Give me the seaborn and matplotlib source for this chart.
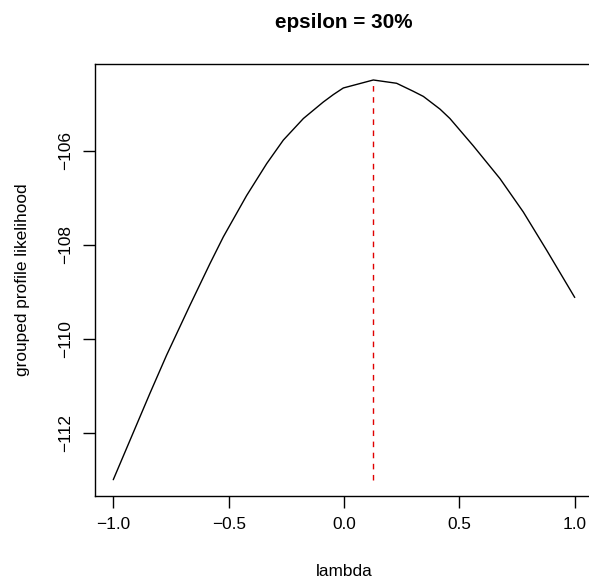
import numpy as np
import pandas as pd
import matplotlib
matplotlib.use("Agg")
import matplotlib.pyplot as plt
import seaborn as sns

# Data
lambda_vals = [-1.000, -0.841, -0.769, -0.668, -0.581, -0.523, -0.422, -0.335,
               -0.263, -0.176, -0.090, -0.046, -0.003, 0.127, 0.228, 0.300,
               0.344, 0.416, 0.459, 0.560, 0.676, 0.777, 0.879, 1.000]
loglik_vals = [-113.00, -111.16, -110.35, -109.29, -108.40, -107.83, -106.95, -106.27,
               -105.77, -105.31, -104.96, -104.80, -104.66, -104.49, -104.56, -104.73,
               -104.84, -105.11, -105.31, -105.89, -106.59, -107.30, -108.12, -109.12]
x_ticks = [-1.0, -0.5, 0.0, 0.5, 1.0]
x_tick_labels = ["\u22121.0", "\u22120.5", "0.0", "0.5", "1.0"]
y_ticks = [-112, -110, -108, -106]
y_tick_labels = ["\u2212112", "\u2212110", "\u2212108", "\u2212106"]
title = "epsilon = 30%"
xlabel = "lambda"
ylabel = "grouped profile likelihood"

df = pd.DataFrame({"lambda": lambda_vals, "loglik": loglik_vals})

sns.set_theme(style="white")
plt.rcParams['font.family'] = ['Liberation Sans', 'DejaVu Sans']
plt.rcParams['text.color'] = 'black'
plt.rcParams['axes.labelcolor'] = 'black'
plt.rcParams['xtick.color'] = 'black'
plt.rcParams['ytick.color'] = 'black'

W, H = 589, 582
fig = plt.figure(figsize=(W / 100, H / 100), dpi=100)
left, right, top, bottom = 94.8, 593.2, 64.0, 495.7
ax = fig.add_axes([left / W, (H - bottom) / H, (right - left) / W, (bottom - top) / H])

sns.lineplot(data=df, x="lambda", y="loglik", ax=ax, color="black", linewidth=1.0,
             sort=False, estimator=None)

imax = int(np.argmax(df["loglik"].values))
peak_x = df["lambda"].values[imax]
ax.plot([peak_x, peak_x], [df["loglik"].min(), df["loglik"].max()], color="#e00000",
        linewidth=1.0, linestyle=(0, (4, 4)))

rng = df["loglik"].max() - df["loglik"].min()
ax.set_xlim(-1.08, 1.08)
ax.set_ylim(df["loglik"].min() - 0.04 * rng, df["loglik"].max() + 0.04 * rng)

ax.set_xticks(x_ticks)
ax.set_xticklabels(x_tick_labels)
ax.set_yticks(y_ticks)
ax.set_yticklabels(y_tick_labels, rotation=90, va="center")

for s in ax.spines.values():
    s.set_visible(True)
    s.set_color("black")
    s.set_linewidth(1.0)

ax.tick_params(axis="both", which="major", direction="out", length=8.6, width=1.0,
               color="black", labelcolor="black", labelsize=12.4, pad=7,
               left=True, bottom=True)
ax.set_xlabel(xlabel, fontsize=12.4, color="black")
ax.set_ylabel(ylabel, fontsize=12.4, color="black")
ax.xaxis.set_label_coords((344 - left) / (right - left), -(572 - bottom) / (bottom - top))
ax.yaxis.set_label_coords(-(left - 23) / (right - left), (bottom - 280) / (bottom - top))
ax.xaxis.label.set_va("center")
ax.yaxis.label.set_va("center")

fig.text(344 / W, 1 - 23 / H, title, ha="center", va="center", fontsize=14.9,
         fontweight="bold", color="black")

fig.savefig("out.png", dpi=100, facecolor="white")
